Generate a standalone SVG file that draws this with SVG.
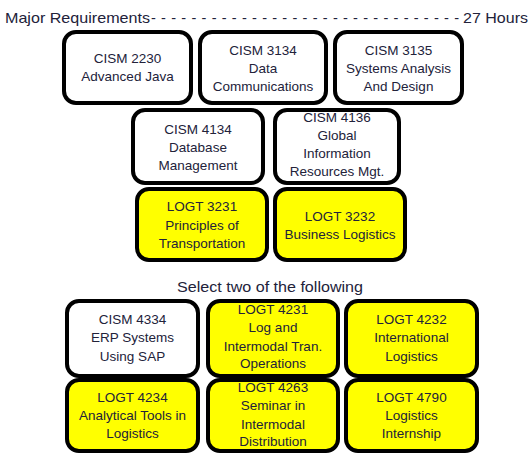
<svg xmlns="http://www.w3.org/2000/svg" width="530" height="453" viewBox="0 0 530 453">
<style>
  .box rect { stroke: #000; stroke-width: 4; }
  .w rect { fill: #fff; }
  .y rect { fill: #ffff00; }
  text { font-family: "Liberation Sans", Arial, sans-serif; font-size: 13.5px; fill: #22223a; text-anchor: middle; }
  .hdr { font-size: 14.5px; text-anchor: start; }
</style>
<rect width="530" height="453" fill="#fff"/>
<g id="header">
  <text class="hdr" x="5" y="23" textLength="145" lengthAdjust="spacingAndGlyphs">Major Requirements</text>
  <text class="hdr" x="151" y="23" textLength="308" lengthAdjust="spacing">-------------------------------</text>
  <text class="hdr" x="463" y="23" textLength="65" lengthAdjust="spacingAndGlyphs">27 Hours</text>
</g>
<g id="cism2230" class="box w"><rect x="64" y="32" width="127" height="71" rx="12"/>
  <text x="127.5" y="63">CISM 2230</text><text x="127.5" y="81">Advanced Java</text></g>
<g id="cism3134" class="box w"><rect x="200" y="32" width="126" height="71" rx="12"/>
  <text x="263" y="55">CISM 3134</text><text x="263" y="73">Data</text><text x="263" y="91">Communications</text></g>
<g id="cism3135" class="box w"><rect x="335" y="32" width="127" height="71" rx="12"/>
  <text x="398.5" y="55">CISM 3135</text><text x="398.5" y="73">Systems Analysis</text><text x="398.5" y="91">And Design</text></g>
<g id="cism4134" class="box w"><rect x="133" y="110" width="130" height="73" rx="12"/>
  <text x="198" y="134">CISM 4134</text><text x="198" y="152">Database</text><text x="198" y="170">Management</text></g>
<g id="cism4136" class="box w"><rect x="275" y="110" width="124" height="73" rx="12"/>
  <text x="337" y="122">CISM 4136</text><text x="337" y="140">Global</text><text x="337" y="158">Information</text><text x="337" y="176">Resources Mgt.</text></g>
<g id="logt3231" class="box y"><rect x="137" y="189" width="130" height="71" rx="12"/>
  <text x="202" y="211">LOGT 3231</text><text x="202" y="230">Principles of</text><text x="202" y="248">Transportation</text></g>
<g id="logt3232" class="box y"><rect x="275" y="189" width="130" height="71" rx="12"/>
  <text x="340" y="221">LOGT 3232</text><text x="340" y="239">Business Logistics</text></g>
<g id="select">
  <text x="270" y="292" style="font-size:14.5px" textLength="186" lengthAdjust="spacingAndGlyphs">Select two of the following</text>
</g>
<g id="cism4334" class="box w"><rect x="67" y="301" width="131" height="75" rx="12"/>
  <text x="132.5" y="324">CISM 4334</text><text x="132.5" y="342">ERP Systems</text><text x="132.5" y="361">Using SAP</text></g>
<g id="logt4231" class="box y"><rect x="208" y="301" width="130" height="75" rx="12"/>
  <text x="273" y="314">LOGT 4231</text><text x="273" y="332">Log and</text><text x="273" y="351">Intermodal Tran.</text><text x="273" y="368">Operations</text></g>
<g id="logt4232" class="box y"><rect x="346" y="301" width="131" height="75" rx="12"/>
  <text x="411.5" y="324">LOGT 4232</text><text x="411.5" y="342">International</text><text x="411.5" y="361">Logistics</text></g>
<g id="logt4234" class="box y"><rect x="67" y="380" width="131" height="71" rx="12"/>
  <text x="132.5" y="402">LOGT 4234</text><text x="132.5" y="420">Analytical Tools in</text><text x="132.5" y="438">Logistics</text></g>
<g id="logt4263" class="box y"><rect x="208" y="380" width="130" height="71" rx="12"/>
  <text x="273" y="392">LOGT 4263</text><text x="273" y="410">Seminar in</text><text x="273" y="429">Intermodal</text><text x="273" y="446">Distribution</text></g>
<g id="logt4790" class="box y"><rect x="346" y="380" width="131" height="71" rx="12"/>
  <text x="411.5" y="402">LOGT 4790</text><text x="411.5" y="420">Logistics</text><text x="411.5" y="438">Internship</text></g>
<g id="connectors"></g>
</svg>
